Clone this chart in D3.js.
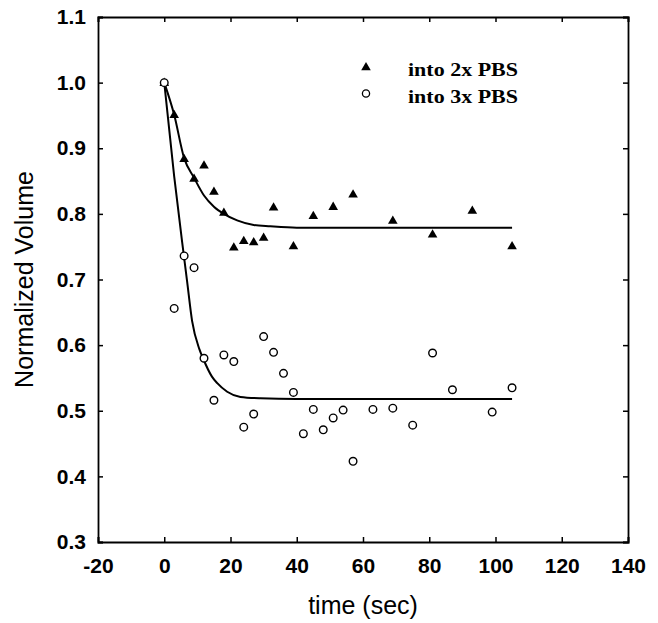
<!DOCTYPE html>
<html>
<head>
<meta charset="utf-8">
<script src="https://cdn.jsdelivr.net/npm/d3@7"></script>
<style>
  body { margin: 0; background: #fff; }
  svg { display: block; }
</style>
</head>
<body>
<svg id="chart"></svg>
<script>
const width = 658;
const height = 623;
const margin = { top: 17, right: 30, bottom: 81, left: 98 };

// measured points, time (sec) vs normalized volume
const time2x = [0, 3, 6, 9, 12, 15, 18, 21, 24, 27, 30, 33, 39, 45, 51, 57, 69, 81, 93, 105];
const vol2x = [1.0, 0.951, 0.884, 0.854, 0.874, 0.834, 0.802, 0.749, 0.759, 0.757, 0.764, 0.810, 0.751, 0.797, 0.811, 0.830, 0.790, 0.769, 0.805, 0.751];

const time3x = [0, 3, 6, 9, 12, 15, 18, 21, 24, 27, 30, 33, 36, 39, 42, 45, 48, 51, 54, 57, 63, 69, 75, 81, 87, 99, 105];
const vol3x = [1.0, 0.656, 0.736, 0.718, 0.580, 0.516, 0.585, 0.575, 0.475, 0.495, 0.613, 0.589, 0.557, 0.528, 0.465, 0.502, 0.471, 0.489, 0.501, 0.423, 0.502, 0.504, 0.478, 0.588, 0.532, 0.498, 0.535];

// fitted curves
const fitTime2x = [0, 3, 6, 9, 12, 15, 18, 22, 27, 32, 40, 60, 105];
const fitVol2x = [1.0, 0.951, 0.885, 0.855, 0.828, 0.811, 0.800, 0.790, 0.783, 0.781, 0.779, 0.779, 0.779];
const fitTime3x = [0, 3, 5.9, 6.9, 8.4, 10.6, 11.7, 14.4, 16, 19, 23, 29, 40, 60, 105];
const fitVol3x = [1.0, 0.857, 0.737, 0.697, 0.637, 0.594, 0.580, 0.552, 0.542, 0.529, 0.521, 0.519, 0.518, 0.518, 0.518];

const xTicks = [-20, 0, 20, 40, 60, 80, 100, 120, 140];
const yTicks = [0.3, 0.4, 0.5, 0.6, 0.7, 0.8, 0.9, 1.0, 1.1];

const legendLabels = ["into 2x PBS", "into 3x PBS"];

const svg = d3.select("#chart").attr("width", width).attr("height", height);

const x = d3.scaleLinear().domain([-20, 140]).range([margin.left, width - margin.right]);
const y = d3.scaleLinear().domain([0.3, 1.1]).range([height - margin.bottom, margin.top]);

const sans = "Arial, 'Liberation Sans', Helvetica, sans-serif";
const serif = "'Times New Roman', 'Liberation Serif', serif";

// axes with inward ticks on all four sides
const tickLen = 5;
svg.append("g")
    .attr("transform", `translate(0,${y(0.3)})`)
    .call(d3.axisBottom(x).tickValues(xTicks).tickSize(-tickLen).tickPadding(16).tickFormat(d => String(d)));
svg.append("g")
    .attr("transform", `translate(0,${y(1.1)})`)
    .call(d3.axisTop(x).tickValues(xTicks).tickSize(-tickLen).tickFormat(""));
svg.append("g")
    .attr("transform", `translate(${x(-20)},0)`)
    .call(d3.axisLeft(y).tickValues(yTicks).tickSize(-tickLen).tickPadding(12).tickFormat(d3.format(".1f")));
svg.append("g")
    .attr("transform", `translate(${x(140)},0)`)
    .call(d3.axisRight(y).tickValues(yTicks).tickSize(-tickLen).tickFormat(""));

svg.selectAll(".domain").attr("stroke", "#000").attr("stroke-width", 1.8);
svg.selectAll(".tick line").attr("stroke", "#000").attr("stroke-width", 1.5);
svg.selectAll(".tick text")
    .attr("fill", "#000")
    .style("font-family", sans)
    .style("font-weight", "bold")
    .style("font-size", "21px");

// fit lines
const line = d3.line()
    .x(d => x(d[0]))
    .y(d => y(d[1]))
    .curve(d3.curveMonotoneX);

svg.append("path")
    .datum(d3.zip(fitTime2x, fitVol2x))
    .attr("d", line)
    .attr("fill", "none")
    .attr("stroke", "#000")
    .attr("stroke-width", 2);
svg.append("path")
    .datum(d3.zip(fitTime3x, fitVol3x))
    .attr("d", line)
    .attr("fill", "none")
    .attr("stroke", "#000")
    .attr("stroke-width", 2);

const tri = d3.symbol().type(d3.symbolTriangle).size(40);

svg.append("g")
    .selectAll("path")
    .data(d3.zip(time2x, vol2x))
    .enter()
    .append("path")
    .attr("d", tri)
    .attr("transform", d => `translate(${x(d[0])},${y(d[1]) + 0.5})`)
    .attr("fill", "#000");

svg.append("g")
    .selectAll("circle")
    .data(d3.zip(time3x, vol3x))
    .enter()
    .append("circle")
    .attr("cx", d => x(d[0]))
    .attr("cy", d => y(d[1]))
    .attr("r", 3.8)
    .attr("fill", "#fff")
    .attr("stroke", "#000")
    .attr("stroke-width", 1.4);

// legend
svg.append("path")
    .attr("d", tri)
    .attr("transform", "translate(366,67.5)")
    .attr("fill", "#000");
svg.append("circle")
    .attr("cx", 366)
    .attr("cy", 93.5)
    .attr("r", 3.6)
    .attr("fill", "#fff")
    .attr("stroke", "#000")
    .attr("stroke-width", 1.3);

legendLabels.forEach((label, i) => {
    svg.append("text")
        .attr("x", 408)
        .attr("y", 76 + i * 27)
        .attr("textLength", 110)
        .attr("lengthAdjust", "spacingAndGlyphs")
        .style("font-family", serif)
        .style("font-weight", "bold")
        .style("font-size", "18px")
        .text(label);
});

// axis titles
svg.append("text")
    .attr("x", (x(-20) + x(140)) / 2)
    .attr("y", 614)
    .attr("text-anchor", "middle")
    .style("font-family", sans)
    .style("font-size", "25px")
    .text("time (sec)");

svg.append("text")
    .attr("transform", `translate(33,${(y(0.3) + y(1.1)) / 2}) rotate(-90)`)
    .attr("text-anchor", "middle")
    .style("font-family", sans)
    .style("font-size", "25px")
    .text("Normalized Volume");
</script>
</body>
</html>
